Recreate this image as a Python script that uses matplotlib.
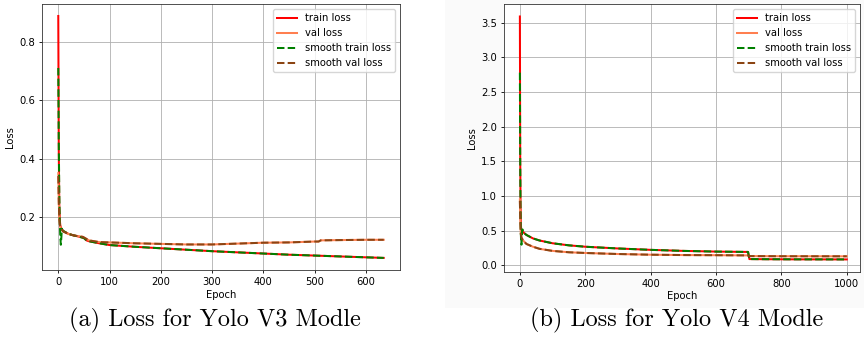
import matplotlib
matplotlib.use("Agg")
import matplotlib.pyplot as plt
from matplotlib.patches import Rectangle

# ---------------- data: Yolo V3 ----------------
v3_epochs_train = [0, 1, 2, 3, 4, 6, 10, 20, 30, 40, 50, 55, 60, 80, 100, 150, 200, 250, 300,
                   350, 400, 450, 500, 550, 600, 635]
v3_train = [0.888, 0.42, 0.24, 0.19, 0.17, 0.16, 0.152, 0.142, 0.137, 0.133, 0.128, 0.12, 0.117,
            0.110, 0.104, 0.098, 0.093, 0.088, 0.083, 0.079, 0.075, 0.071, 0.068, 0.065, 0.062, 0.060]
v3_epochs_strain = [0, 1, 2, 3, 4, 5, 6, 7, 8, 10, 20, 30, 40, 50, 55, 60, 80, 100, 150, 200, 250,
                    300, 350, 400, 450, 500, 550, 600, 635]
v3_strain = [0.71, 0.45, 0.28, 0.18, 0.13, 0.105, 0.13, 0.16, 0.155, 0.152, 0.142, 0.137, 0.133,
             0.128, 0.12, 0.117, 0.110, 0.104, 0.098, 0.093, 0.088, 0.083, 0.079, 0.075, 0.071,
             0.068, 0.065, 0.062, 0.060]
v3_epochs_val = [0, 1, 2, 3, 5, 10, 20, 30, 40, 48, 52, 60, 80, 100, 150, 200, 250, 300, 350,
                 400, 450, 500, 508, 512, 550, 600, 635]
v3_val = [0.35, 0.25, 0.20, 0.175, 0.16, 0.15, 0.142, 0.137, 0.134, 0.132, 0.128, 0.12, 0.114,
          0.113, 0.110, 0.108, 0.106, 0.106, 0.109, 0.112, 0.113, 0.116, 0.116, 0.120, 0.121,
          0.122, 0.122]
v3_sval = [0.34, 0.25, 0.20, 0.175, 0.16, 0.15, 0.142, 0.137, 0.134, 0.132, 0.128, 0.12, 0.114,
           0.113, 0.110, 0.108, 0.106, 0.106, 0.109, 0.112, 0.113, 0.116, 0.116, 0.120, 0.121,
           0.122, 0.122]

# ---------------- data: Yolo V4 ----------------
v4_epochs_train = [0, 1, 2, 3, 4, 6, 10, 20, 40, 60, 100, 150, 200, 300, 400, 500, 600, 698,
                   702, 750, 850, 1000]
v4_train = [3.59, 1.6, 0.9, 0.6, 0.52, 0.50, 0.48, 0.44, 0.39, 0.36, 0.32, 0.29, 0.27, 0.245,
            0.225, 0.21, 0.20, 0.195, 0.092, 0.090, 0.088, 0.087]
v4_epochs_strain = [0, 1, 2, 3, 4, 5, 6, 7, 8, 10, 20, 40, 60, 100, 150, 200, 300, 400, 500,
                    600, 698, 702, 750, 850, 1000]
v4_strain = [2.78, 1.5, 0.8, 0.45, 0.32, 0.30, 0.40, 0.50, 0.52, 0.48, 0.44, 0.39, 0.36, 0.32,
             0.29, 0.27, 0.245, 0.225, 0.21, 0.20, 0.195, 0.092, 0.090, 0.088, 0.087]
v4_epochs_val = [0, 1, 2, 3, 5, 10, 20, 40, 60, 100, 150, 200, 300, 400, 500, 600, 698, 702,
                 800, 1000]
v4_val = [0.95, 0.70, 0.55, 0.45, 0.40, 0.36, 0.31, 0.27, 0.24, 0.21, 0.19, 0.18, 0.165, 0.155,
          0.150, 0.148, 0.145, 0.135, 0.133, 0.132]
v4_sval = [0.93, 0.70, 0.55, 0.45, 0.40, 0.36, 0.31, 0.27, 0.24, 0.21, 0.19, 0.18, 0.165, 0.155,
           0.150, 0.148, 0.145, 0.135, 0.133, 0.132]

captions = ["(a) Loss for Yolo V3 Modle", "(b) Loss for Yolo V4 Modle"]

FS = 7.2
LW = 1.45
plt.rcParams["font.family"] = ["DejaVu Sans"]

fig = plt.figure(figsize=(8.64, 3.48), dpi=100)
bg = Rectangle((445 / 864, 40 / 348), 419 / 864, 308 / 348,
               transform=fig.transFigure, facecolor="#fafafa", edgecolor="none", zorder=-10)
fig.patches.append(bg)

ax1 = fig.add_axes([42 / 864, 78 / 348, 358 / 864, 266 / 348])
ax2 = fig.add_axes([503.7 / 864, 76.3 / 348, 356 / 864, 267.7 / 348])

panels = [
    (ax1, v3_epochs_train, v3_train, v3_epochs_val, v3_val, v3_epochs_strain, v3_strain, v3_sval,
     (-31.75, 666.75), (0.0186, 0.929), [0.2, 0.4, 0.6, 0.8], [0, 100, 200, 300, 400, 500, 600]),
    (ax2, v4_epochs_train, v4_train, v4_epochs_val, v4_val, v4_epochs_strain, v4_strain, v4_sval,
     (-49.5, 1039.5), (-0.09, 3.77), [0, 0.5, 1.0, 1.5, 2.0, 2.5, 3.0, 3.5],
     [0, 200, 400, 600, 800, 1000]),
]

for (ax, et, tr, ev, va, es, st, sv, xl, yl, yt, xt) in panels:
    ax.plot(et, tr, color="red", lw=LW, label="train loss")
    ax.plot(ev, va, color="coral", lw=LW, label="val loss")
    ax.plot(es, st, color="green", lw=LW, ls="--", label="smooth train loss")
    ax.plot(ev, sv, color="#8B4513", lw=LW, ls="--", label="smooth val loss")
    ax.set_yticks(yt)
    ax.set_xticks(xt)
    ax.set_xlim(*xl)
    ax.set_ylim(*yl)
    ax.grid(True, color="#b0b0b0", lw=0.6)
    ax.tick_params(labelsize=FS, width=0.6, length=2.5, pad=2.5)
    for s in ax.spines.values():
        s.set_linewidth(0.6)
        s.set_color("#333333")
    ax.set_xlabel("Epoch", fontsize=FS, labelpad=2)
    ax.set_ylabel("Loss", fontsize=FS, labelpad=3)
    ax.legend(loc="upper right", fontsize=FS, framealpha=0.8, borderpad=0.4,
              handlelength=2.0, labelspacing=0.5)

fig.text(215 / 864, 28 / 348, captions[0], ha="center", va="center",
         fontsize=17.5, family="cmr10")
fig.text(677 / 864, 28 / 348, captions[1], ha="center", va="center",
         fontsize=17.5, family="cmr10")

fig.savefig("out.png", dpi=100)
